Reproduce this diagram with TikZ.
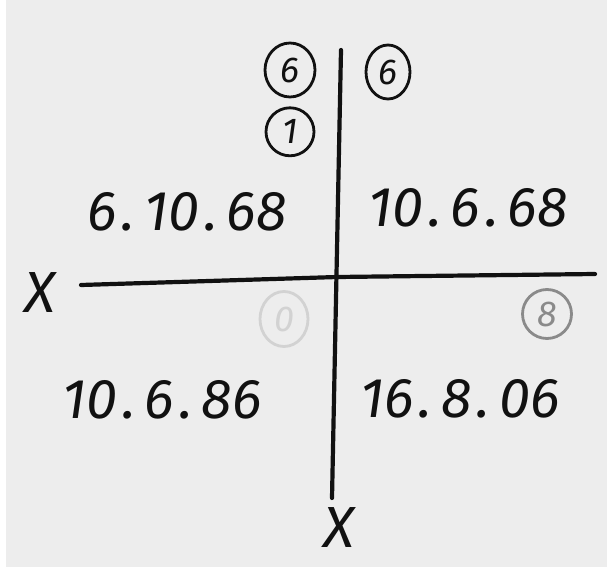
\documentclass[tikz,border=0pt]{standalone}
\usepackage{fontspec}
\setmainfont{Fira Sans}
\usepackage{tikz}
\usetikzlibrary{positioning, shapes.geometric}
\definecolor{paper}{HTML}{EDEDED}
\definecolor{pencil}{HTML}{111111}
\definecolor{faintgrey}{HTML}{D2D2D2}
\definecolor{midgrey}{HTML}{8A8A8A}
\newcommand{\hdot}{\kern5pt.\kern9pt}

\begin{document}
\begin{tikzpicture}[x=1pt,y=-1pt,node distance=20pt]
 \tikzstyle{axis}=[line width=4.2pt,draw=pencil,line cap=round]
 \tikzstyle{datum}=[font=\fontsize{56}{60}\selectfont\itshape,text=pencil,inner sep=0pt]
 \tikzstyle{ring}=[ellipse,draw=pencil,line width=2.8pt,minimum width=50pt,
   minimum height=54pt,inner sep=0pt,font=\fontsize{36}{38}\selectfont\itshape,text=pencil]
 \tikzstyle{cross}=[font=\fontsize{58}{58}\selectfont\itshape,text=pencil,inner sep=0pt]
 % paper
 \fill[white] (0,0) rectangle (607,567);
 \fill[paper] (6,0) rectangle (607,567);
 \useasboundingbox (0,0) rectangle (607,567);
 % axes
 \coordinate (top) at (341,50);
 \coordinate (bottom) at (332,498);
 \coordinate (left) at (81,285);
 \coordinate (mid) at (337,277);
 \coordinate (right) at (595,274);
 \draw[axis] (top) -- (bottom);
 \draw[axis] (left) -- (mid) -- (right);
 \node (xleft) [cross] at (40,293) {X};
 \node (xbottom) [cross] at (339,528) {X};
 % quadrants
 \node (nw) [datum] at (187,212) {6\hdot 10\hdot 68};
 \node (ne) [datum] at (468,208) {10\hdot 6\hdot 68};
 \node (sw) [datum] at (162,400) {10\hdot 6\hdot 86};
 \node (se) [datum] at (460,399) {16\hdot 8\hdot 06};
 % circled numbers
 \node (sixleft) [ring] at (290,70) {6};
 \node (one) [ring,minimum width=48pt,minimum height=48pt,below=8pt of sixleft] {1};
 \node (sixright) [ring,minimum width=44pt] at (388,72) {6};
 \node (zero) [ring,minimum width=48pt,minimum height=55pt,draw=faintgrey,text=faintgrey] at (284,319) {0};
 \node (eight) [ring,minimum width=49pt,minimum height=49pt,draw=midgrey,text=midgrey] at (547,314) {8};
\end{tikzpicture}
\end{document}
